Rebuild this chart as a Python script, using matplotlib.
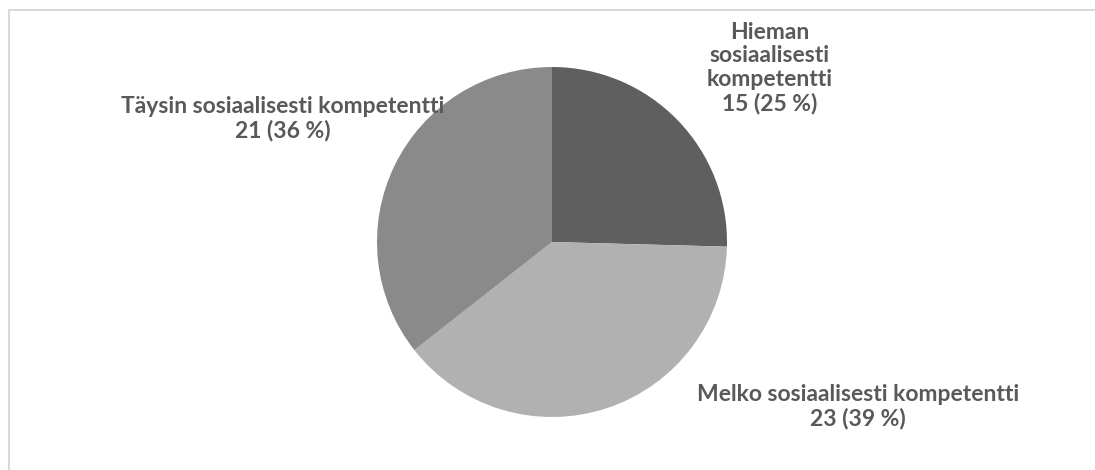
import matplotlib.pyplot as plt
from matplotlib.patches import Rectangle

# data
categories = ['Hieman\nsosiaalisesti\nkompetentti', 'Melko sosiaalisesti kompetentti',
              'Täysin sosiaalisesti kompetentti']
counts = [15, 23, 21]
percents = [25, 39, 36]
colors = ['#5f5f5f', '#b1b1b1', '#8a8a8a']

W, H = 1095, 470
fig = plt.figure(figsize=(W / 100, H / 100), dpi=100)
ax = fig.add_axes([0, 0, 1, 1])

ax.pie(counts, colors=colors, startangle=90, counterclock=False,
       center=(552, H - 242), radius=175, wedgeprops=dict(linewidth=0))

ax.set_xlim(0, W)
ax.set_ylim(0, H)
ax.set_aspect('auto')
ax.axis('off')

# chart border (cut off at right and bottom)
ax.add_patch(Rectangle((9, -20), W + 20, H - 10 + 20, fill=False,
                       edgecolor='#d9d9d9', linewidth=1.5))

# labels
label_pos = [(770, 68), (858, 407), (283, 119)]
for cat, n, p, (x, y) in zip(categories, counts, percents, label_pos):
    ax.text(x, H - y, f'{cat}\n{n} ({p} %)', ha='center', va='center',
            fontsize=16.5, fontweight='bold', color='#595959',
            family=['Lato', 'DejaVu Sans'], linespacing=1.15)

fig.savefig('out.png', dpi=100)
